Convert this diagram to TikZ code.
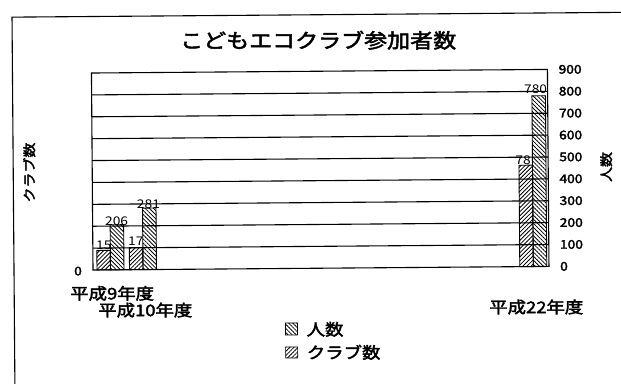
\documentclass[tikz,border=0pt]{standalone}
\usepackage{fontspec}
\newfontfamily\jp{Noto Sans CJK JP}[FakeStretch=1.15]
\newfontfamily\jpb{Noto Sans CJK JP}[FakeBold=2.5,FakeStretch=1.15]
\usetikzlibrary{patterns.meta}
\tikzset{
  frameline/.style={line width=1.1pt,black},
  gridline/.style={line width=1.1pt,black},
  barA/.style={draw=black,line width=0.9pt,pattern={Lines[angle=45,distance=2.9pt,line width=0.8pt]}},
  barB/.style={draw=black,line width=0.9pt,pattern={Lines[angle=-45,distance=2.9pt,line width=0.8pt]}},
  ttl/.style={font=\jpb\fontsize{20}{22}\selectfont,inner sep=0pt},
  cat/.style={font=\jpb\fontsize{16}{18}\selectfont,inner sep=0pt},
  tick/.style={font=\jpb\fontsize{12}{14}\selectfont,inner sep=0pt},
  val/.style={font=\jp\fontsize{12}{14}\selectfont,inner sep=0pt},
  axt/.style={font=\jpb\fontsize{13}{15}\selectfont,inner sep=0pt,rotate=90},
  leg/.style={font=\jpb\fontsize{16}{18}\selectfont,inner sep=0pt,anchor=west},
}
\begin{document}
\begin{tikzpicture}[x=1pt,y=1pt]
\useasboundingbox (0,0) rectangle (621,-383);
\clip (0,0) rectangle (621,-383);
\fill[white] (0,0) rectangle (621,-383);
\begin{scope}[rotate around={0.45:(93,-270)}]
  % outer frame
  \draw[frameline] (14,-420) -- (14,-16.5) -- (680,-16.5);
  % title
  \node[ttl] (title) at (320,-42) {こどもエコクラブ参加者数};
  % plot area
  \draw[gridline] (93,-73) rectangle (549,-270);
  \foreach \i in {1,...,8}{
    \draw[gridline] (93,{-270+\i*21.889}) -- (549,{-270+\i*21.889});
  }
  % right axis ticks
  \foreach \v [count=\k from 0] in {0,100,200,300,400,500,600,700,800,900}{
    \node[tick,anchor=west] (r\k) at (560,{-270+\k*21.889}) {\v};
  }
  \node[tick] (l0) at (78,-271) {0};
  % axis titles
  \node[axt] (ylab) at (30,-172) {クラブ数};
  \node[axt] (yrlab) at (607,-171) {人数};
  % bars: group H9
  \draw[barA] (97,-270) rectangle (110.5,{-270+15*1.30});
  \draw[barB] (110.5,-270) rectangle (124,{-270+206*0.21889});
  % group H10
  \draw[barA] (129.5,-270) rectangle (143,{-270+17*1.30});
  \draw[barB] (143,-270) rectangle (156.5,{-270+281*0.21889});
  % group H22
  \draw[barA] (519.8,-270) rectangle (533.3,{-270+78*1.30});
  \draw[barB] (533.3,-270) rectangle (546.8,{-270+780*0.21889});
  % value labels
  \node[val] (v1) at (104,-245.5) {15};
  \node[val] (v2) at (117,-221.5) {206};
  \node[val] (v3) at (136,-241.5) {17};
  \node[val] (v4) at (149,-204.5) {281};
  \node[val] (v5) at (524,-163.5) {78};
  \node[val] (v6) at (537,-92.5) {780};
  % category labels
  \node[cat] (c1) at (112,-293.5) {平成9年度};
  \node[cat] (c2) at (145,-310.5) {平成10年度};
  \node[cat] (c3) at (536,-310.5) {平成22年度};
  % legend
  \draw[barB,line width=0.7pt] (285,-324.5) rectangle (297,-336.5);
  \draw[barA,line width=0.7pt] (285,-348.5) rectangle (297,-359.5);
  \node[leg] (lg1) at (306,-331) {人数};
  \node[leg] (lg2) at (306,-354) {クラブ数};
\end{scope}
\end{tikzpicture}
\end{document}
